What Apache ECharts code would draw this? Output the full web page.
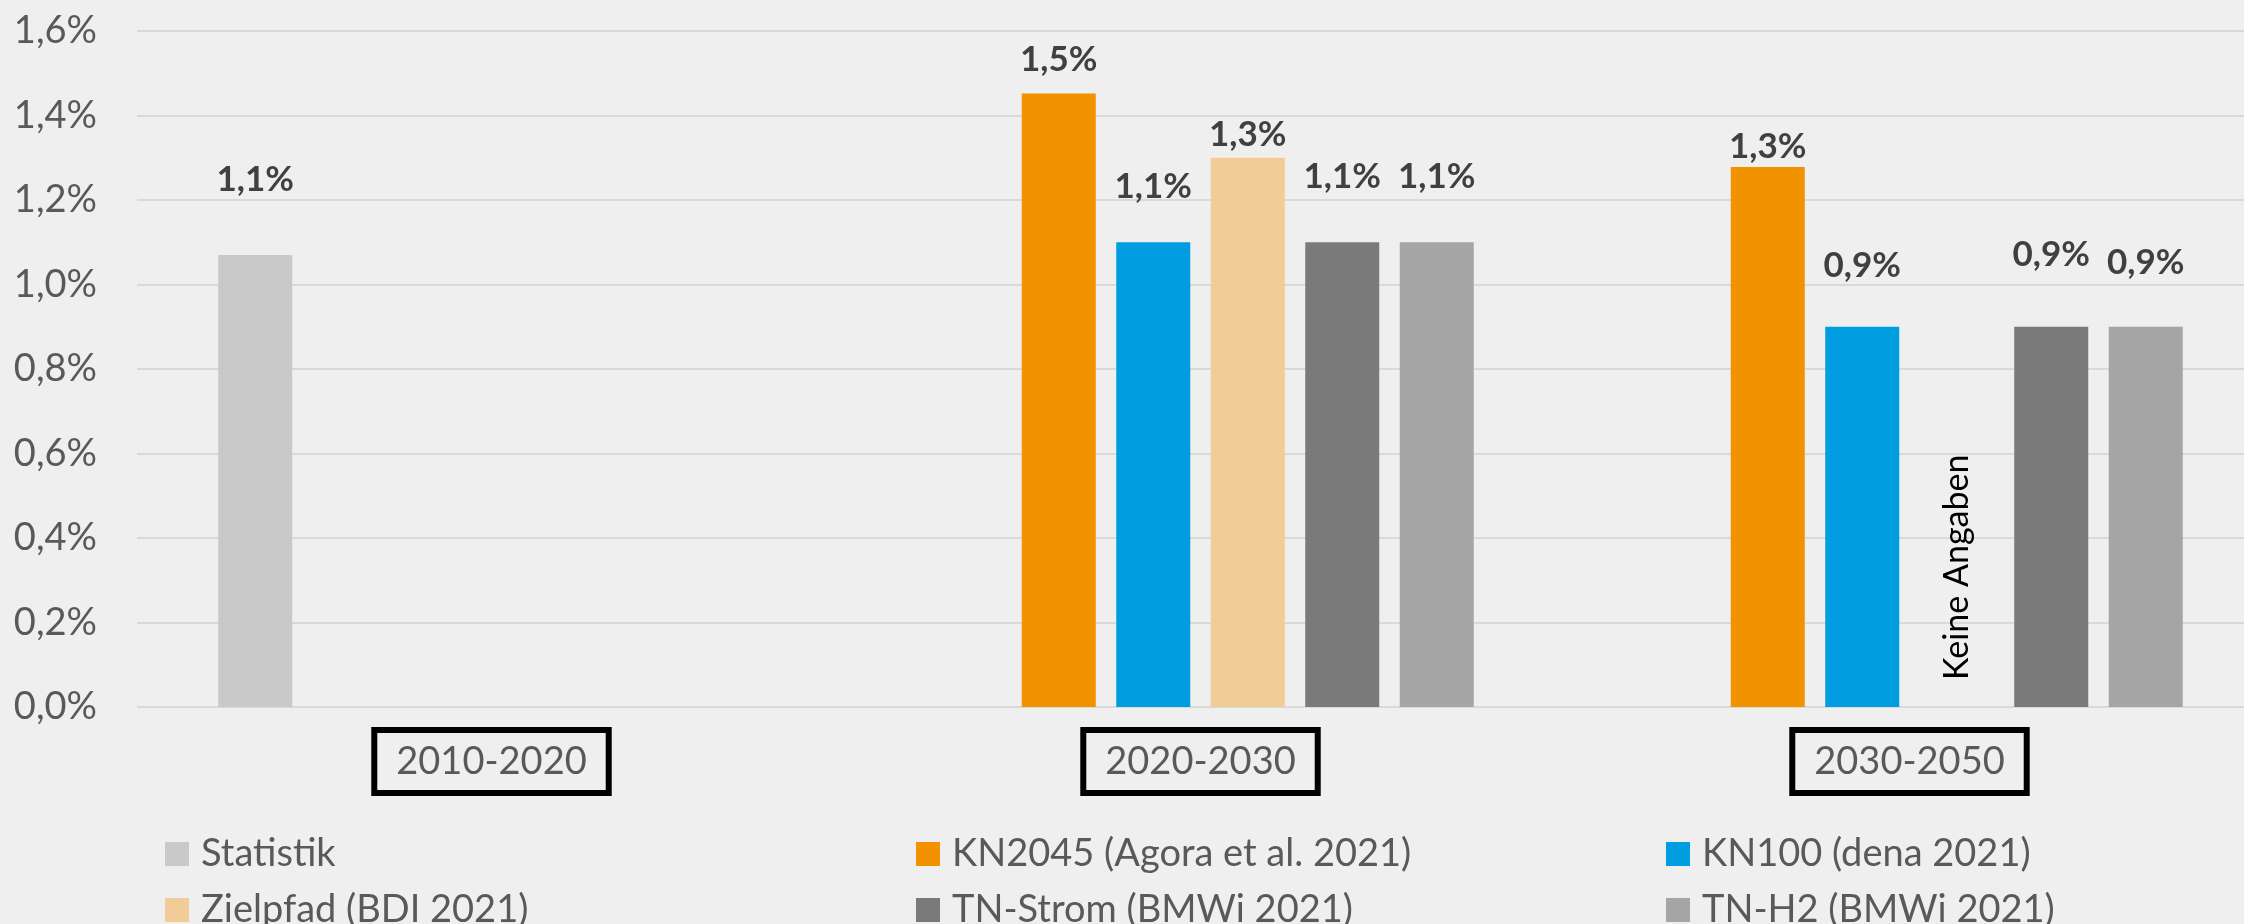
<!DOCTYPE html>
<html>
<head>
<meta charset="utf-8">
<title>Wachstumsraten</title>
<script src="https://cdn.jsdelivr.net/npm/echarts@6/dist/echarts.min.js"></script>
<style>
  html, body { margin: 0; padding: 0; background: #efefef; }
  #chart { width: 2244px; height: 924px; }
</style>
</head>
<body>
<div id="chart"></div>
<script>
  // Zeitraeume
  var categories = ['2010-2020', '2020-2030', '2030-2050'];
  // Werte in %
  var statistik = [1.07, null, null];
  var kn2045 = [null, 1.452, 1.278];
  var kn100 = [null, 1.10, 0.90];
  var zielpfad = [null, 1.30, null];
  var tnStrom = [null, 1.10, 0.90];
  var tnH2 = [null, 1.10, 0.90];
  var zielpfadNote = [null, null, 'Keine Angaben'];
  var yTicks = [0, 0.2, 0.4, 0.6, 0.8, 1.0, 1.2, 1.4, 1.6];

  // Abstand Beschriftung ueber Balken (wie im Original von Hand gesetzt)
  var labelGap = {
    statistik: [59, 0, 0],
    kn2045: [0, 18, 4],
    kn100: [0, 40, 45],
    zielpfad: [0, 7, 0],
    tnStrom: [0, 50, 56],
    tnH2: [0, 50, 48]
  };

  function pct(v) {
    return v.toFixed(1).replace('.', ',') + '%';
  }

  function makeSeries(name, key, values, color, notes) {
    return {
      name: name,
      type: 'bar',
      barWidth: 74,
      barGap: '27.7%',
      itemStyle: { color: color },
      label: {
        show: true,
        position: 'top',
        fontFamily: 'Lato',
        fontWeight: 'bold',
        fontSize: 35,
        lineHeight: 32,
        color: '#404040',
        formatter: function (p) { return pct(p.value); }
      },
      data: values.map(function (v, i) {
        if (notes && notes[i]) {
          return {
            value: 0,
            label: {
              show: true,
              formatter: notes[i],
              position: 'insideBottom',
              distance: 27,
              rotate: 90,
              align: 'left',
              verticalAlign: 'middle',
              fontFamily: 'Lato',
              fontWeight: 'normal',
              fontSize: 34,
              color: '#000000'
            }
          };
        }
        if (v === null) return null;
        return { value: v, label: { distance: labelGap[key][i] } };
      })
    };
  }

  var legendText = {
    fontFamily: 'Lato',
    fontSize: 38,
    lineHeight: 32,
    color: '#595959',
    padding: [0, 0, 0, 7]
  };

  function legendItem(name, left, top) {
    return {
      data: [name],
      left: left,
      top: top,
      padding: 0,
      icon: 'rect',
      itemWidth: 24,
      itemHeight: 24,
      selectedMode: false,
      textStyle: legendText
    };
  }

  var option = {
    backgroundColor: '#efefef',
    animation: false,
    grid: {
      left: 137, width: 2127, top: 31, bottom: 217,
      containLabel: false, outerBoundsMode: 'none'
    },
    legend: [
      legendItem('Statistik', 165, 835),
      legendItem('KN2045 (Agora et al. 2021)', 916, 835),
      legendItem('KN100 (dena 2021)', 1666, 835),
      legendItem('Zielpfad (BDI 2021)', 165, 891),
      legendItem('TN-Strom (BMWi 2021)', 916, 891),
      legendItem('TN-H2 (BMWi 2021)', 1666, 891)
    ],
    xAxis: {
      type: 'category',
      data: categories,
      axisLine: { show: false },
      axisTick: { show: false },
      axisLabel: {
        interval: 0,
        margin: 23,
        fontFamily: 'Lato',
        fontSize: 38,
        lineHeight: 45,
        color: '#595959',
        borderColor: '#000000',
        borderWidth: 6,
        padding: [9, 22, 9, 22]
      }
    },
    yAxis: {
      type: 'value',
      min: yTicks[0],
      max: yTicks[yTicks.length - 1],
      interval: 0.2,
      axisLine: { show: false },
      axisTick: { show: false },
      splitLine: { lineStyle: { color: '#d9d9d9', width: 2 } },
      axisLabel: {
        margin: 40,
        fontFamily: 'Lato',
        fontSize: 38,
        color: '#595959',
        formatter: function (v) { return pct(v); }
      }
    },
    series: [
      makeSeries('Statistik', 'statistik', statistik, '#c9c9c9'),
      makeSeries('KN2045 (Agora et al. 2021)', 'kn2045', kn2045, '#f39200'),
      makeSeries('KN100 (dena 2021)', 'kn100', kn100, '#009ee0'),
      makeSeries('Zielpfad (BDI 2021)', 'zielpfad', zielpfad, '#f2cc96', zielpfadNote),
      makeSeries('TN-Strom (BMWi 2021)', 'tnStrom', tnStrom, '#7a7a7a'),
      makeSeries('TN-H2 (BMWi 2021)', 'tnH2', tnH2, '#a5a5a5')
    ]
  };

  var chart = echarts.init(document.getElementById('chart'));
  chart.setOption(option);
</script>
</body>
</html>
